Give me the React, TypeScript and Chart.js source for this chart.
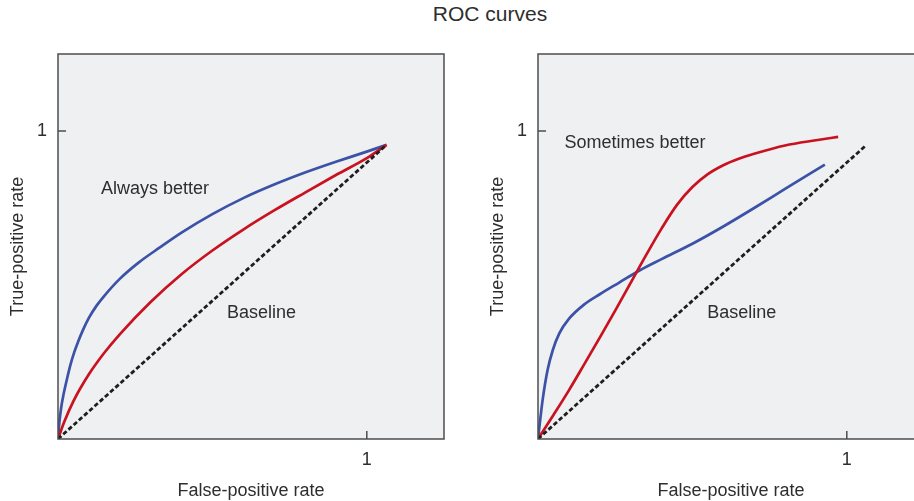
import React, { useEffect, useRef } from "react";
import { Chart, registerables } from "chart.js";

Chart.register(...registerables);

// ---------- data ----------
const CHART_TITLE = "ROC curves";
const X_TITLE = "False-positive rate";
const Y_TITLE = "True-positive rate";
const AXIS_MIN = 0;
const AXIS_MAX = 1.25;
const TICK_VALUES = [1];
const TICK_LABELS = ["1"];

// Left panel: "Always better"
const leftBlueX = [0, 0.004, 0.01, 0.018, 0.028, 0.04, 0.053, 0.066, 0.08, 0.1, 0.125, 0.15, 0.2, 0.26, 0.33, 0.4, 0.5, 0.6, 0.7, 0.8, 0.9, 1.0, 1.064];
const leftBlueY = [0, 0.05, 0.1, 0.145, 0.19, 0.24, 0.283, 0.318, 0.352, 0.393, 0.433, 0.465, 0.52, 0.572, 0.622, 0.67, 0.73, 0.782, 0.826, 0.865, 0.9, 0.933, 0.955];
const leftRedX = [0, 0.02, 0.05, 0.1, 0.15, 0.2, 0.3, 0.4, 0.5, 0.6, 0.7, 0.8, 0.9, 1.0, 1.064];
const leftRedY = [0, 0.055, 0.123, 0.21, 0.28, 0.34, 0.445, 0.535, 0.612, 0.68, 0.742, 0.8, 0.857, 0.912, 0.955];
const leftBaseX = [0, 1.064];
const leftBaseY = [0, 0.955];

// Right panel: "Sometimes better"
const rightBlueX = [0, 0.008, 0.015, 0.031, 0.048, 0.069, 0.1, 0.15, 0.2, 0.263, 0.33, 0.4, 0.5, 0.6, 0.7, 0.8, 0.929];
const rightBlueY = [0, 0.07, 0.127, 0.224, 0.289, 0.343, 0.39, 0.437, 0.47, 0.508, 0.548, 0.584, 0.634, 0.69, 0.75, 0.812, 0.891];
const rightRedX = [0, 0.05, 0.1, 0.15, 0.2, 0.25, 0.3, 0.35, 0.4, 0.45, 0.5, 0.55, 0.6, 0.65, 0.7, 0.8, 0.9, 0.972];
const rightRedY = [0, 0.078, 0.158, 0.243, 0.329, 0.417, 0.507, 0.597, 0.683, 0.76, 0.818, 0.86, 0.889, 0.91, 0.926, 0.953, 0.97, 0.981];
const rightBaseX = [0, 1.064];
const rightBaseY = [0, 0.955];

const leftNotes = ["Always better", "Baseline"];
const leftNoteX = [0.314, 0.659];
const leftNoteY = [0.812, 0.409];
const rightNotes = ["Sometimes better", "Baseline"];
const rightNoteX = [0.314, 0.66];
const rightNoteY = [0.961, 0.409];

// ---------- styles ----------
const FONT_FAMILY = "'Liberation Sans', Arial, Helvetica, sans-serif";
const TEXT_COLOR = "#2e2e2e";
const BLUE = "#3b52a6";
const RED = "#c8121f";
const DASH = "#1e1e1e";
const PLOT_BG = "#eff0f2";
const FRAME = "#4d4d4d";

const toPoints = (xs: number[], ys: number[]) => xs.map((x, i) => ({ x, y: ys[i] }));

const decorPlugin = {
  id: "panelDecor",
  beforeDatasetsDraw(chart: any) {
    const { ctx, chartArea } = chart;
    ctx.save();
    ctx.fillStyle = PLOT_BG;
    ctx.fillRect(chartArea.left, chartArea.top, chartArea.right - chartArea.left, chartArea.bottom - chartArea.top);
    ctx.restore();
  },
  afterDatasetsDraw(chart: any, _args: any, opts: any) {
    const { ctx, scales } = chart;
    ctx.save();
    ctx.fillStyle = TEXT_COLOR;
    ctx.font = `18px ${FONT_FAMILY}`;
    ctx.textAlign = "center";
    ctx.textBaseline = "middle";
    const texts: string[] = opts.texts || [];
    texts.forEach((t, i) => {
      ctx.fillText(t, scales.x.getPixelForValue(opts.xs[i]), scales.y.getPixelForValue(opts.ys[i]));
    });
    ctx.restore();
  },
  afterDraw(chart: any) {
    const { ctx, chartArea, scales } = chart;
    ctx.save();
    ctx.strokeStyle = FRAME;
    ctx.lineWidth = 1.5;
    ctx.strokeRect(chartArea.left, chartArea.top, chartArea.right - chartArea.left, chartArea.bottom - chartArea.top);
    ctx.beginPath();
    TICK_VALUES.forEach((v) => {
      const py = scales.y.getPixelForValue(v);
      ctx.moveTo(chartArea.left, py);
      ctx.lineTo(chartArea.left + 8, py);
      const px = scales.x.getPixelForValue(v);
      ctx.moveTo(px, chartArea.bottom);
      ctx.lineTo(px, chartArea.bottom - 8);
    });
    ctx.stroke();
    ctx.restore();
  },
};

function buildConfig(
  blue: { x: number; y: number }[],
  red: { x: number; y: number }[],
  base: { x: number; y: number }[],
  notes: { texts: string[]; xs: number[]; ys: number[] },
  padRight: number
): any {
  const font = { family: FONT_FAMILY, size: 18 };
  const tickCb = (v: any) => {
    const idx = TICK_VALUES.indexOf(Number(v));
    return idx >= 0 ? TICK_LABELS[idx] : "";
  };
  const lineDs = (data: any, color: string, width: number, dash?: number[]) => ({
    data,
    borderColor: color,
    backgroundColor: color,
    borderWidth: width,
    borderDash: dash || [],
    pointRadius: 0,
    pointHoverRadius: 0,
    fill: false,
    cubicInterpolationMode: "monotone",
    borderCapStyle: "butt",
  });
  return {
    type: "line",
    data: {
      datasets: [lineDs(base, DASH, 2.8, [4.5, 2.5]), lineDs(red, RED, 2.7), lineDs(blue, BLUE, 2.7)],
    },
    options: {
      animation: false,
      responsive: false,
      devicePixelRatio: 1,
      events: [],
      layout: { padding: { top: 54, right: padRight, bottom: 0, left: 0 } },
      plugins: {
        legend: { display: false },
        title: { display: false },
        tooltip: { enabled: false },
        panelDecor: notes,
      },
      scales: {
        x: {
          type: "linear",
          min: AXIS_MIN,
          max: AXIS_MAX,
          afterBuildTicks: (s: any) => {
            s.ticks = TICK_VALUES.map((value) => ({ value }));
          },
          afterFit: (s: any) => {
            s.height = 62;
          },
          ticks: { callback: tickCb, font, color: TEXT_COLOR, padding: 10, maxRotation: 0, autoSkip: false },
          grid: { display: false, drawTicks: false },
          border: { display: false },
          title: { display: true, text: X_TITLE, font, color: TEXT_COLOR, padding: { top: 0, bottom: -1 } },
        },
        y: {
          type: "linear",
          min: AXIS_MIN,
          max: AXIS_MAX,
          afterBuildTicks: (s: any) => {
            s.ticks = TICK_VALUES.map((value) => ({ value }));
          },
          afterFit: (s: any) => {
            s.width = 58;
          },
          ticks: { callback: tickCb, font, color: TEXT_COLOR, padding: 11, autoSkip: false },
          grid: { display: false, drawTicks: false },
          border: { display: false },
          title: { display: true, text: Y_TITLE, font, color: TEXT_COLOR, padding: { top: 7, bottom: 0 } },
        },
      },
    },
    plugins: [decorPlugin],
  };
}

function Panel(props: {
  left: number;
  width: number;
  padRight: number;
  blue: { x: number; y: number }[];
  red: { x: number; y: number }[];
  base: { x: number; y: number }[];
  notes: { texts: string[]; xs: number[]; ys: number[] };
}) {
  const ref = useRef<HTMLCanvasElement | null>(null);
  useEffect(() => {
    if (!ref.current) return;
    const chart = new Chart(ref.current, buildConfig(props.blue, props.red, props.base, props.notes, props.padRight));
    return () => chart.destroy();
  }, []);
  return (
    <canvas
      ref={ref}
      width={props.width}
      height={501}
      style={{ position: "absolute", left: props.left, top: 0, width: props.width, height: 501, display: "block" }}
    />
  );
}

export default function App() {
  return (
    <div
      style={{
        position: "absolute",
        left: 0,
        top: 0,
        width: 914,
        height: 501,
        overflow: "hidden",
        background: "#ffffff",
      }}
    >
      <div
        style={{
          position: "absolute",
          left: 0,
          top: 0,
          width: 980,
          height: 28,
          lineHeight: "28px",
          textAlign: "center",
          fontFamily: FONT_FAMILY,
          fontSize: 21,
          color: TEXT_COLOR,
        }}
      >
        {CHART_TITLE}
      </div>
      <Panel
        left={0}
        width={460}
        padRight={16}
        blue={toPoints(leftBlueX, leftBlueY)}
        red={toPoints(leftRedX, leftRedY)}
        base={toPoints(leftBaseX, leftBaseY)}
        notes={{ texts: leftNotes, xs: leftNoteX, ys: leftNoteY }}
      />
      <Panel
        left={480}
        width={444}
        padRight={0}
        blue={toPoints(rightBlueX, rightBlueY)}
        red={toPoints(rightRedX, rightRedY)}
        base={toPoints(rightBaseX, rightBaseY)}
        notes={{ texts: rightNotes, xs: rightNoteX, ys: rightNoteY }}
      />
    </div>
  );
}
